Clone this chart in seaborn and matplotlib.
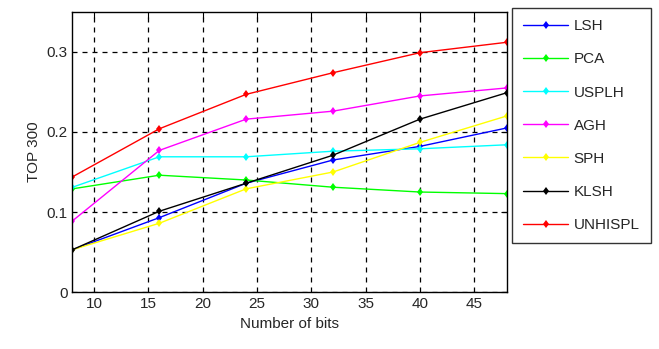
import pandas as pd
import matplotlib
matplotlib.use('Agg')
import matplotlib.pyplot as plt
import seaborn as sns

# Data
bits = [8, 16, 24, 32, 40, 48]
lsh = [0.053, 0.093, 0.136, 0.165, 0.182, 0.205]
pca = [0.129, 0.146, 0.140, 0.131, 0.125, 0.123]
usplh = [0.131, 0.169, 0.169, 0.176, 0.179, 0.184]
agh = [0.089, 0.177, 0.216, 0.226, 0.245, 0.255]
sph = [0.053, 0.086, 0.129, 0.150, 0.187, 0.220]
klsh = [0.053, 0.101, 0.136, 0.171, 0.216, 0.249]
unhispl = [0.144, 0.204, 0.247, 0.274, 0.299, 0.312]

methods = ['LSH', 'PCA', 'USPLH', 'AGH', 'SPH', 'KLSH', 'UNHISPL']
series = [lsh, pca, usplh, agh, sph, klsh, unhispl]
colors = ['#0000ff', '#00ff00', '#00ffff', '#ff00ff', '#ffff00', '#000000', '#ff0000']

x_ticks = [10, 15, 20, 25, 30, 35, 40, 45]
y_ticks = [0, 0.1, 0.2, 0.3]
y_ticklabels = ['0', '0.1', '0.2', '0.3']

# long-form table for seaborn
rows = []
for name, vals in zip(methods, series):
    for b, v in zip(bits, vals):
        rows.append({'bits': b, 'value': v, 'method': name})
df = pd.DataFrame(rows)

sns.set_style('white')
plt.rcParams['font.family'] = ['Liberation Sans', 'DejaVu Sans']

fig = plt.figure(figsize=(6.59, 3.49), dpi=100)
ax = fig.add_axes([0.110, 0.163, 0.659, 0.803])

sns.lineplot(data=df, x='bits', y='value', hue='method', hue_order=methods,
             palette=colors, marker='d', markersize=4.5, markeredgewidth=0,
             linewidth=1.0, ax=ax)

ax.set_xlim(8, 48)
ax.set_ylim(0, 0.35)
ax.set_xticks(x_ticks)
ax.set_yticks(y_ticks)
ax.set_yticklabels(y_ticklabels)
ax.tick_params(direction='in', top=True, right=True, labelsize=11, length=4, color='black')
ax.grid(True, linestyle=(0, (4, 4)), color='black', linewidth=0.9)
for sp in ax.spines.values():
    sp.set_color('black')
    sp.set_linewidth(1.0)

ax.set_xlabel('Number of bits', fontsize=11)
ax.set_ylabel('TOP 300', fontsize=11)

leg = ax.legend(loc='upper left', bbox_to_anchor=(1.012, 1.014), fontsize=11,
                frameon=True, fancybox=False, edgecolor='black',
                labelspacing=1.25, handlelength=2.9, handletextpad=0.4,
                borderpad=0.75, borderaxespad=0)
leg.get_frame().set_linewidth(1.0)

plt.savefig('out.png', dpi=100)
plt.close()
